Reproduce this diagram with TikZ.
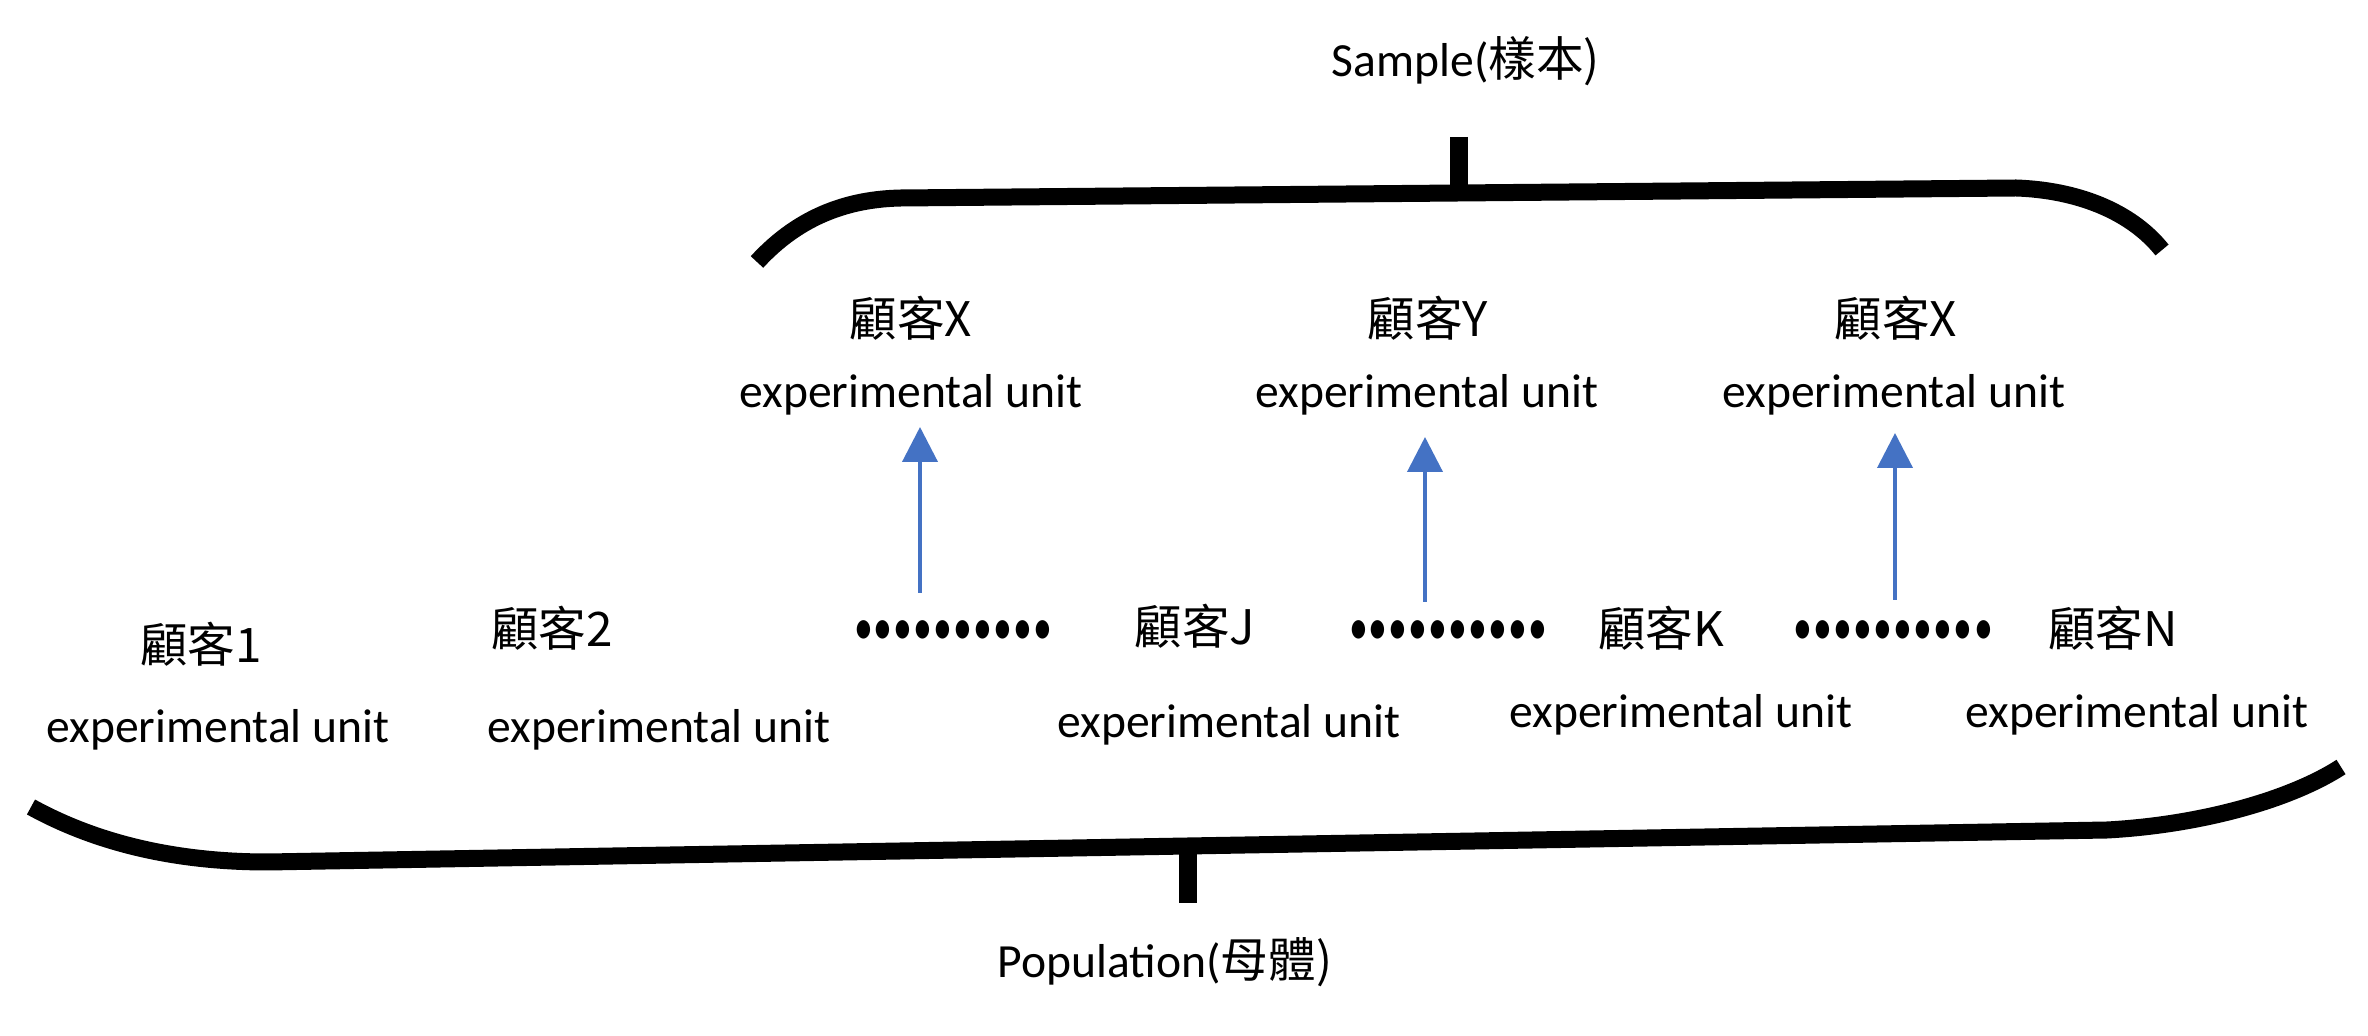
\documentclass[tikz,border=0pt]{standalone}
\usepackage{fontspec}
\setmainfont{Carlito}
\newfontfamily\cjk{Noto Sans CJK TC}
\usetikzlibrary{arrows.meta}
\newlength\pxu
\setlength\pxu{0.5pt}
\definecolor{arrowblue}{HTML}{4472C4}
\newcommand\onebullet{\makebox[0pt]{\scalebox{1.05}[1.45]{•}}}
\newcommand\bulletrow[1]{\makebox[#1\pxu]{\onebullet\hfill\onebullet\hfill\onebullet\hfill\onebullet\hfill\onebullet\hfill\onebullet\hfill\onebullet\hfill\onebullet\hfill\onebullet\hfill\onebullet}}
\tikzset{
  lbl/.style={anchor=base, inner sep=0pt, font=\fontsize{23.8}{28}\selectfont},
  dotrow/.style={anchor=center, inner sep=0pt, font=\fontsize{18}{22}\selectfont},
  brace/.style={line width=8.5pt, line cap=butt, line join=round},
  pick/.style={draw=arrowblue, line width=2pt, -{Triangle[length=17.5pt,width=17.5pt]}}
}
\begin{document}
\begin{tikzpicture}[x=0.5pt,y=-0.5pt]
\useasboundingbox[fill=white] (0,0) rectangle (2368,1036);

% top brace (sample)
\draw[brace] (757,262) .. controls (800,215) and (850,199) .. (901,198) -- (2016,188) .. controls (2075,190) and (2130,210) .. (2162,250);
\draw[line width=9pt] (1459,137) -- (1459,192);
\node[lbl] (sample) at (1466,77) {Sample(\cjk{樣本})};

% bottom brace (population)
\draw[brace] (31,807) .. controls (100,845) and (180,862) .. (268,862) -- (2107,830) .. controls (2200,825) and (2290,800) .. (2341,767);
\draw[line width=9pt] (1188,852) -- (1188,903);
\node[lbl] (population) at (1165,978) {Population(\cjk{母體})};

% population units
\node[lbl] (c1) at (201,663) {\cjk{顧客}1};
\node[lbl] (e1) at (218,743) {experimental unit};
\node[lbl] (c2) at (552,647) {\cjk{顧客}2};
\node[lbl] (e2) at (659,743) {experimental unit};
\node[dotrow] (d1) at (953,633) {\bulletrow{179}};
\node[lbl] (cj) at (1195,645) {\cjk{顧客}J};
\node[lbl] (ej) at (1229,738) {experimental unit};
\node[dotrow] (d2) at (1448,633) {\bulletrow{179}};
\node[lbl] (ck) at (1661,647) {\cjk{顧客}K};
\node[lbl] (ek) at (1681,728) {experimental unit};
\node[dotrow] (d3) at (1893,633) {\bulletrow{181}};
\node[lbl] (cn) at (2113,647) {\cjk{顧客}N};
\node[lbl] (en) at (2137,728) {experimental unit};

% sample units
\node[lbl] (sx1) at (911,337) {\cjk{顧客}X};
\node[lbl] (sex1) at (911,408) {experimental unit};
\node[lbl] (sy) at (1428,337) {\cjk{顧客}Y};
\node[lbl] (sey) at (1427,408) {experimental unit};
\node[lbl] (sx3) at (1896,337) {\cjk{顧客}X};
\node[lbl] (sex3) at (1894,408) {experimental unit};

% arrows
\coordinate (a1s) at (920,593);
\coordinate (a1e) at (920,427);
\coordinate (a2s) at (1425,602);
\coordinate (a2e) at (1425,437);
\coordinate (a3s) at (1895,600);
\coordinate (a3e) at (1895,433);
\draw[pick] (a1s) -- (a1e);
\draw[pick] (a2s) -- (a2e);
\draw[pick] (a3s) -- (a3e);
\end{tikzpicture}
\end{document}
